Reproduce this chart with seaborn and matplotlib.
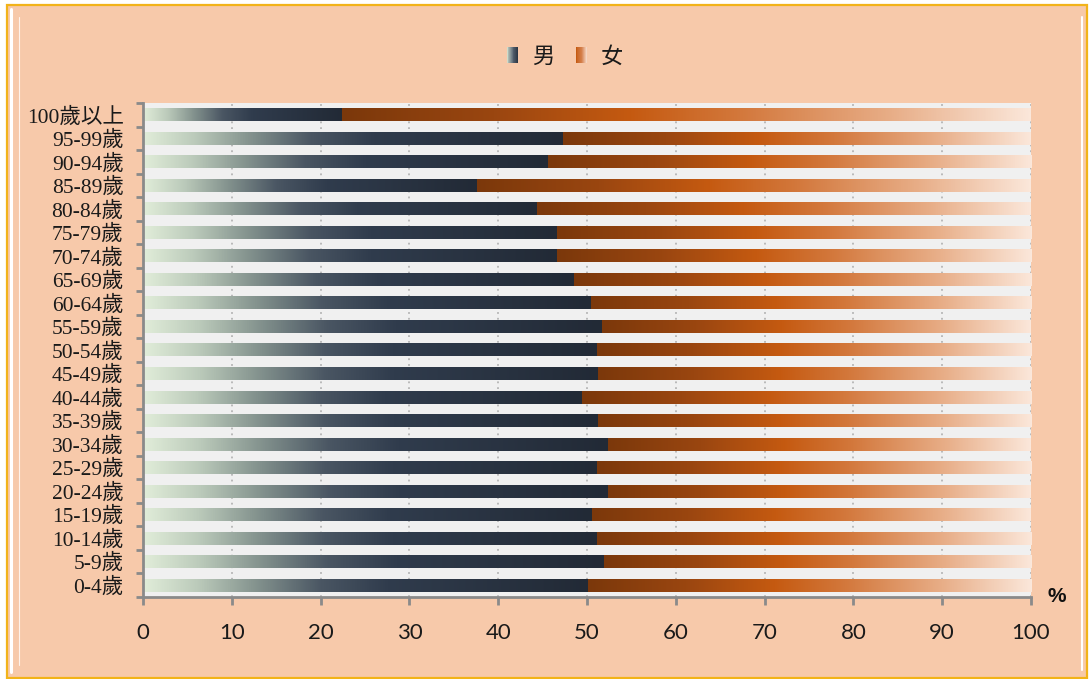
import numpy as np
import pandas as pd
import matplotlib
matplotlib.use("Agg")
import matplotlib.pyplot as plt
import seaborn as sns
from matplotlib.colors import LinearSegmentedColormap
from matplotlib.patches import Rectangle
from matplotlib.lines import Line2D
from matplotlib.legend_handler import HandlerBase

# ---------------- data ----------------
ages = ["100歲以上", "95-99歲", "90-94歲", "85-89歲", "80-84歲", "75-79歲", "70-74歲",
        "65-69歲", "60-64歲", "55-59歲", "50-54歲", "45-49歲", "40-44歲", "35-39歲",
        "30-34歲", "25-29歲", "20-24歲", "15-19歲", "10-14歲", "5-9歲", "0-4歲"]
male = [22.3, 47.2, 45.6, 37.5, 44.3, 46.6, 46.6, 48.5, 50.4, 51.6, 51.1,
        51.2, 49.4, 51.2, 52.3, 51.1, 52.3, 50.5, 51.1, 51.9, 50.1]
total = [100] * len(ages)
series_labels = ["男", "女"]
x_ticks = list(range(0, 101, 10))

W, H = 1091, 679
PEACH = "#f7c9aa"
GOLD = "#f2b319"
AXC = "#8a8a8a"

sns.set_theme(style="white")
plt.rcParams["font.family"] = ["Lato", "Noto Sans CJK TC", "DejaVu Sans"]

male_cmap = LinearSegmentedColormap.from_list(
    "m", [(0, "#e1edd9"), (0.12, "#bccbbb"), (0.25, "#85948f"), (0.4, "#4a5663"),
          (0.55, "#303c4d"), (1, "#222a36")])
fem_cmap = LinearSegmentedColormap.from_list(
    "f", [(0, "#7b380b"), (0.22, "#9a4610"), (0.42, "#c55a11"), (0.58, "#d3783c"),
          (0.8, "#e8ae88"), (1, "#fbe7da")])
fem_leg_cmap = LinearSegmentedColormap.from_list(
    "fl", [(0, "#c55a11"), (0.6, "#d9895a"), (1, "#fbe7da")])
male_leg_cmap = LinearSegmentedColormap.from_list(
    "ml", [(0, "#cfdccb"), (0.5, "#5b6876"), (1, "#26303e")])

fig = plt.figure(figsize=(W / 100, H / 100), dpi=100, facecolor="white")

# frame
fig.add_artist(Rectangle((6.5 / W, 1 - 677.5 / H), (1087 - 6.5) / W, (677.5 - 5) / H,
                         transform=fig.transFigure, facecolor=PEACH, edgecolor=GOLD,
                         lw=1.6, zorder=0))
fig.add_artist(Line2D([11 / W, 11 / W], [1 - 672 / H, 1 - 9 / H], transform=fig.transFigure,
                      color="white", lw=2.2, zorder=1))
fig.add_artist(Line2D([18.5 / W, 18.5 / W], [1 - 665 / H, 1 - 17 / H], transform=fig.transFigure,
                      color="#fff2ea", lw=0.8, zorder=1))
fig.add_artist(Line2D([1081.5 / W, 1081.5 / W], [1 - 670 / H, 1 - 17 / H], transform=fig.transFigure,
                      color="white", lw=1.5, zorder=1))

ax = fig.add_axes([143 / W, 1 - 597 / H, (1031 - 143) / W, (597 - 103) / H])
ax.set_facecolor("#f0f0f0")

df = pd.DataFrame({"age": ages, "male": male, "total": total})
sns.barplot(data=df, x="total", y="age", orient="h", width=0.55, color="#c55a11",
            errorbar=None, ax=ax, zorder=2)
nf = len(ax.patches)
sns.barplot(data=df, x="male", y="age", orient="h", width=0.55, color="#2f3b4c",
            errorbar=None, ax=ax, zorder=3)

grad = np.linspace(0, 1, 512)[None, :]
fem_patches = ax.patches[:nf]
male_patches = ax.patches[nf:]
for p, m in zip(fem_patches, df["male"]):
    y0, h = p.get_y(), p.get_height()
    ax.imshow(grad, cmap=fem_cmap, extent=(m, p.get_x() + p.get_width(), y0 + h, y0),
              aspect="auto", zorder=2, interpolation="bilinear")
    p.set_facecolor("none")
    p.set_edgecolor("none")
for p in male_patches:
    y0, h = p.get_y(), p.get_height()
    ax.imshow(grad, cmap=male_cmap, extent=(p.get_x(), p.get_x() + p.get_width(), y0 + h, y0),
              aspect="auto", zorder=3, interpolation="bilinear")
    p.set_facecolor("none")
    p.set_edgecolor("none")

ax.set_xlim(0, 100)
ax.set_ylim(len(ages) - 0.5, -0.5)
ax.set_xticks(x_ticks)
ax.set_xticklabels([str(v) for v in x_ticks])
ax.grid(axis="x", color="#b5b5b5", linestyle=(0, (1, 2.2)), lw=1.3)
ax.grid(axis="y", visible=False)
ax.set_axisbelow(True)
ax.set_xlabel("")
ax.set_ylabel("")

for s in ["top", "right"]:
    ax.spines[s].set_visible(False)
for s in ["left", "bottom"]:
    ax.spines[s].set_color(AXC)
    ax.spines[s].set_linewidth(2)
    ax.spines[s].set_zorder(5)

ax.tick_params(axis="x", which="major", bottom=True, direction="out", length=6, width=2,
               color=AXC, pad=13, labelsize=16, labelcolor="#1a1a1a")
ax.set_yticks(np.arange(-0.5, len(ages)), minor=True)
ax.tick_params(axis="y", which="major", left=False, length=0, pad=14, labelsize=15.5,
               labelcolor="#1a1a1a")
ax.tick_params(axis="y", which="minor", left=True, direction="out", length=5, width=2, color=AXC)
for t in ax.get_yticklabels():
    t.set_fontfamily(["Liberation Serif", "Noto Sans CJK TC"])

fig.text(1057 / W, 1 - 596 / H, "%", fontsize=15, fontweight="bold", ha="center",
         va="center", color="#111111", family=["Liberation Sans"])


class GradHandler(HandlerBase):
    def __init__(self, cmap):
        super().__init__()
        self.cmap = cmap

    def create_artists(self, legend, orig_handle, xdescent, ydescent, width, height,
                       fontsize, trans):
        n = 14
        sh = height * 1.0
        sw = sh * 0.75
        x0 = -xdescent + width - sw
        y0 = -ydescent + (height - sh) / 2
        arts = []
        for i in range(n):
            r = Rectangle((x0 + sw * i / n, y0), sw / n * 1.05, sh,
                          facecolor=self.cmap(i / (n - 1)), edgecolor="none",
                          transform=trans)
            arts.append(r)
        return arts


h1 = Rectangle((0, 0), 1, 1)
h2 = Rectangle((0, 0), 1, 1)
fig.legend([h1, h2], series_labels,
           handler_map={h1: GradHandler(male_leg_cmap), h2: GradHandler(fem_leg_cmap)},
           loc="center", bbox_to_anchor=(564 / W, 1 - 56 / H), ncol=2, frameon=False,
           prop={"family": ["Noto Sans CJK TC"], "size": 16}, handlelength=0.6,
           handletextpad=0.6, columnspacing=0.9, labelcolor="#1a1a1a")

fig.savefig("out.png", dpi=100, facecolor=fig.get_facecolor())
